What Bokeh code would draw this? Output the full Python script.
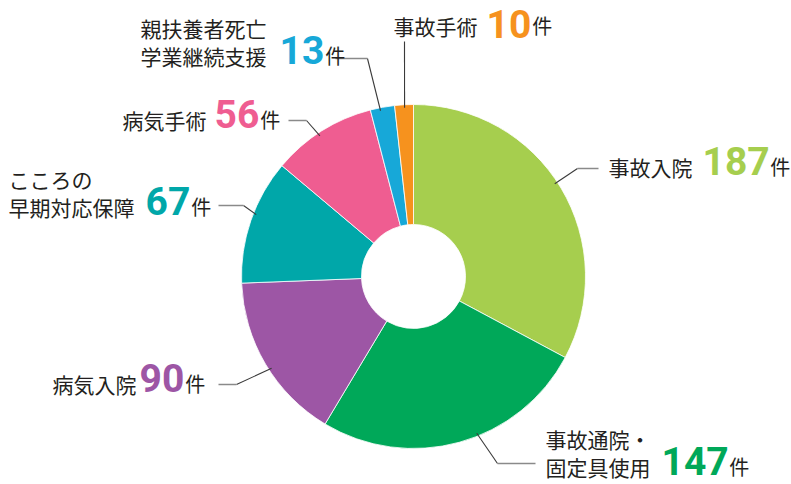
import math
from bokeh.plotting import figure
from bokeh.models import ColumnDataSource, Range1d
from bokeh.core.properties import value
from bokeh.embed import file_html
from bokeh.resources import INLINE

# ---- data ----
CATEGORIES = ["事故入院", "事故通院・固定具使用", "病気入院", "こころの早期対応保障",
              "病気手術", "親扶養者死亡学業継続支援", "事故手術"]
LABEL_LINES = [["事故入院"], ["事故通院・", "固定具使用"], ["病気入院"],
               ["こころの", "早期対応保障"], ["病気手術"],
               ["親扶養者死亡", "学業継続支援"], ["事故手術"]]
VALUES = [187, 147, 90, 67, 56, 13, 10]
UNIT = "件"
COLORS = ["#a6ce4e", "#00a859", "#9d56a5", "#00a7a9", "#ef5d91", "#17a8d8", "#f6921e"]

# ---- layout (screen pixels) ----
W, H = 791, 484
CX, CY = 413, 276
R_OUT, R_IN = 172, 52
# name_x, num_x, bottom_y of last line
LABEL_POS = [(608, 702, 175), (545, 661, 475), (52, 139, 392), (8, 145, 215),
             (122, 214, 128), (140, 279, 64), (393, 486, 34)]
# where along each slice the leader attaches (0..1)
LEADER_FRAC = [0.48, 0.43, 0.46, 0.56, 0.46, 0.40, 0.52]
# leader: knee point, outer point
LEADERS = [((577, 168), (598, 168)), ((497, 463), (535, 463)),
           ((236, 384), (218, 384)), ((243, 205), (218, 205)),
           ((306, 120), (288, 120)), ((367, 58), (335, 58)),
           ((404, 41), (404, 41))]
NAME_SIZE = 21
NUM_SIZE = 39
LINE_H = 27.5
DIGIT_W = 0.562 * NUM_SIZE
NUM_MIN_CENTER = 0.6 * NUM_SIZE  # keep number's box inside the page

total = sum(VALUES)
starts, ends, attach = [], [], []
cum = 0.0
for v, f in zip(VALUES, LEADER_FRAC):
    a0 = math.pi / 2 - 2 * math.pi * cum / total
    cum += v
    a1 = math.pi / 2 - 2 * math.pi * cum / total
    starts.append(a0)
    ends.append(a1)
    attach.append(a0 + (a1 - a0) * f)

p = figure(width=W, height=H, output_backend="svg", toolbar_location=None,
           x_range=Range1d(0, W), y_range=Range1d(-H, 0), min_border=0)
p.axis.visible = False
p.grid.visible = False
p.outline_line_color = None
p.background_fill_color = "white"

src = ColumnDataSource(dict(start=starts, end=ends, color=COLORS, cat=CATEGORIES, val=VALUES))
p.annular_wedge(x=CX, y=-CY, inner_radius=R_IN, outer_radius=R_OUT,
                start_angle="start", end_angle="end", direction="clock",
                fill_color="color", line_color="white", line_width=0.8, source=src)

# leader lines
for i, m in enumerate(attach):
    sx = CX + (R_OUT - 3) * math.cos(m)
    sy = CY - (R_OUT - 3) * math.sin(m)
    (kx, ky), (ox, oy) = LEADERS[i]
    p.line([sx, kx], [-sy, -ky], line_color="#3a3a3a", line_width=1.1)
    p.line([kx, ox], [-ky, -oy], line_color="#8a8a8a", line_width=1.3)

# labels (vertical centres of ink)
nx, ny, nt = [], [], []
for i, lines in enumerate(LABEL_LINES):
    name_x, num_x, bottom = LABEL_POS[i]
    for j, ln in enumerate(lines):
        nx.append(name_x)
        ny.append(-(bottom - 9 - (len(lines) - 1 - j) * LINE_H))
        nt.append(ln)
p.text(x=nx, y=ny, text=nt, text_font=value("Noto Sans CJK JP"),
       text_font_size=f"{NAME_SIZE}px", text_color="#231f20",
       text_align="left", text_baseline="middle")

num_src = ColumnDataSource(dict(
    x=[pos[1] for pos in LABEL_POS],
    y=[-max(pos[2] - 15, NUM_MIN_CENTER) for pos in LABEL_POS],
    t=[str(v) for v in VALUES], c=COLORS))
p.text(x="x", y="y", text="t", text_color="c", source=num_src,
       text_font=value("Roboto"), text_font_style="bold",
       text_font_size=f"{NUM_SIZE}px", text_align="left", text_baseline="middle")

ux = [pos[1] + len(str(v)) * DIGIT_W + 2 for pos, v in zip(LABEL_POS, VALUES)]
uy = [-(pos[2] - 9) for pos in LABEL_POS]
p.text(x=ux, y=uy, text=[UNIT] * len(VALUES), text_font=value("Noto Sans CJK JP"),
       text_font_size=f"{NAME_SIZE - 1}px", text_color="#231f20",
       text_align="left", text_baseline="middle")

open("out.html", "w").write(file_html(p, INLINE))
